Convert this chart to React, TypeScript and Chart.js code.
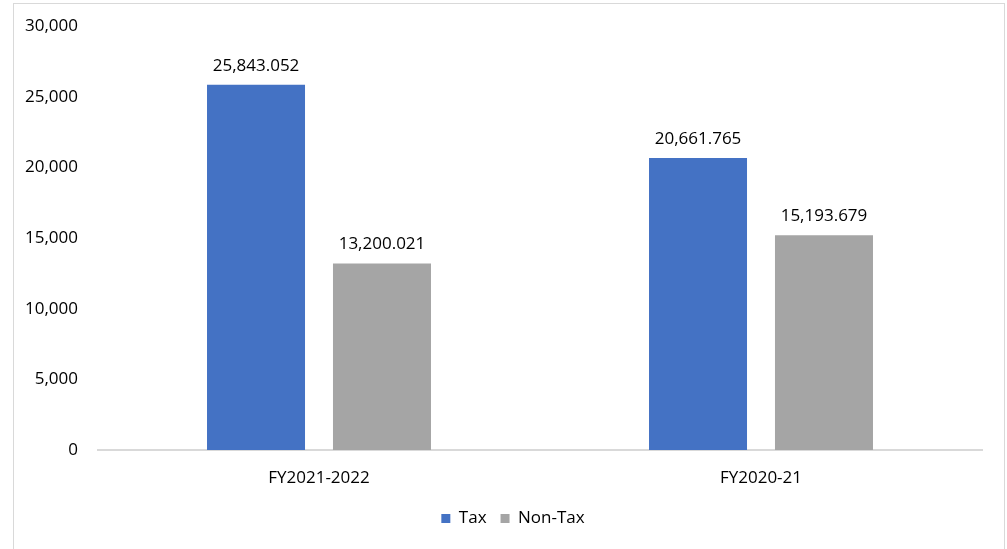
import React, { useEffect, useRef } from "react";
import { Chart, registerables } from "chart.js";

Chart.register(...registerables);

const categories = ["FY2021-2022", "FY2020-21"];
const taxValues = [25843.052, 20661.765];
const nonTaxValues = [13200.021, 15193.679];
const yTicks = [0, 5000, 10000, 15000, 20000, 25000, 30000];

const FONT = "'Open Sans', 'Liberation Sans', sans-serif";

const dataLabelPlugin = {
  id: "dataLabels",
  afterDatasetsDraw(chart: any) {
    const ctx = chart.ctx;
    ctx.save();
    ctx.font = `17px ${FONT}`;
    ctx.fillStyle = "#000000";
    ctx.textAlign = "center";
    ctx.textBaseline = "middle";
    chart.data.datasets.forEach((ds: any, i: number) => {
      const meta = chart.getDatasetMeta(i);
      meta.data.forEach((el: any, j: number) => {
        const v = ds.data[j] as number;
        const txt = v.toLocaleString("en-US", { minimumFractionDigits: 3, maximumFractionDigits: 3 });
        ctx.fillText(txt, el.x, el.y - 19);
      });
    });
    ctx.restore();
  },
};

const legendShiftPlugin = {
  id: "legendShift",
  afterLayout(chart: any) {
    if (chart.legend) {
      chart.legend.left += 22;
      chart.legend.right += 22;
    }
  },
};

export default function App() {
  const ref = useRef<HTMLCanvasElement>(null);
  useEffect(() => {
    if (!ref.current) return;
    const chart = new Chart(ref.current, {
      type: "bar",
      data: {
        labels: categories,
        datasets: [
          { label: "Tax", data: taxValues, backgroundColor: "#4472C4", categoryPercentage: 0.57, barPercentage: 0.778 },
          { label: "Non-Tax", data: nonTaxValues, backgroundColor: "#A5A5A5", categoryPercentage: 0.57, barPercentage: 0.778 },
        ],
      },
      options: {
        responsive: false,
        animation: false,
        layout: { padding: { left: 0, right: 25, top: 26, bottom: 12 } },
        scales: {
          x: {
            grid: { display: false },
            border: { display: true, color: "#d9d9d9", width: 2 },
            ticks: { color: "#000", font: { family: FONT, size: 17 }, padding: 10 },
            afterFit: (s: any) => { s.height = 46; },
          },
          y: {
            min: 0,
            max: 30000,
            afterBuildTicks: (s: any) => { s.ticks = yTicks.map((v) => ({ value: v })); },
            grid: { display: false, drawTicks: false },
            border: { display: false },
            ticks: {
              color: "#000",
              font: { family: FONT, size: 17 },
              padding: 20,
              callback: (v: any) => Number(v).toLocaleString("en-US"),
            },
            afterFit: (s: any) => { s.width = 98; s.paddingTop = 0; s.paddingBottom = 0; },
          },
        },
        plugins: {
          legend: {
            position: "bottom",
            labels: { boxWidth: 9, boxHeight: 9, color: "#000", font: { family: FONT, size: 17 }, padding: 14 },
          },
          tooltip: { enabled: false },
        },
      },
      plugins: [dataLabelPlugin, legendShiftPlugin],
    });
    return () => chart.destroy();
  }, []);
  return (
    <div style={{ position: "fixed", left: 0, top: 0, width: 1007, height: 549, background: "#fff", overflow: "hidden" }}>
      <div style={{ position: "absolute", left: 13, top: 3, width: 990, height: 600, border: "1px solid #d9d9d9" }} />
      <canvas ref={ref} width={1007} height={549} style={{ position: "absolute", left: 0, top: 0 }} />
    </div>
  );
}
